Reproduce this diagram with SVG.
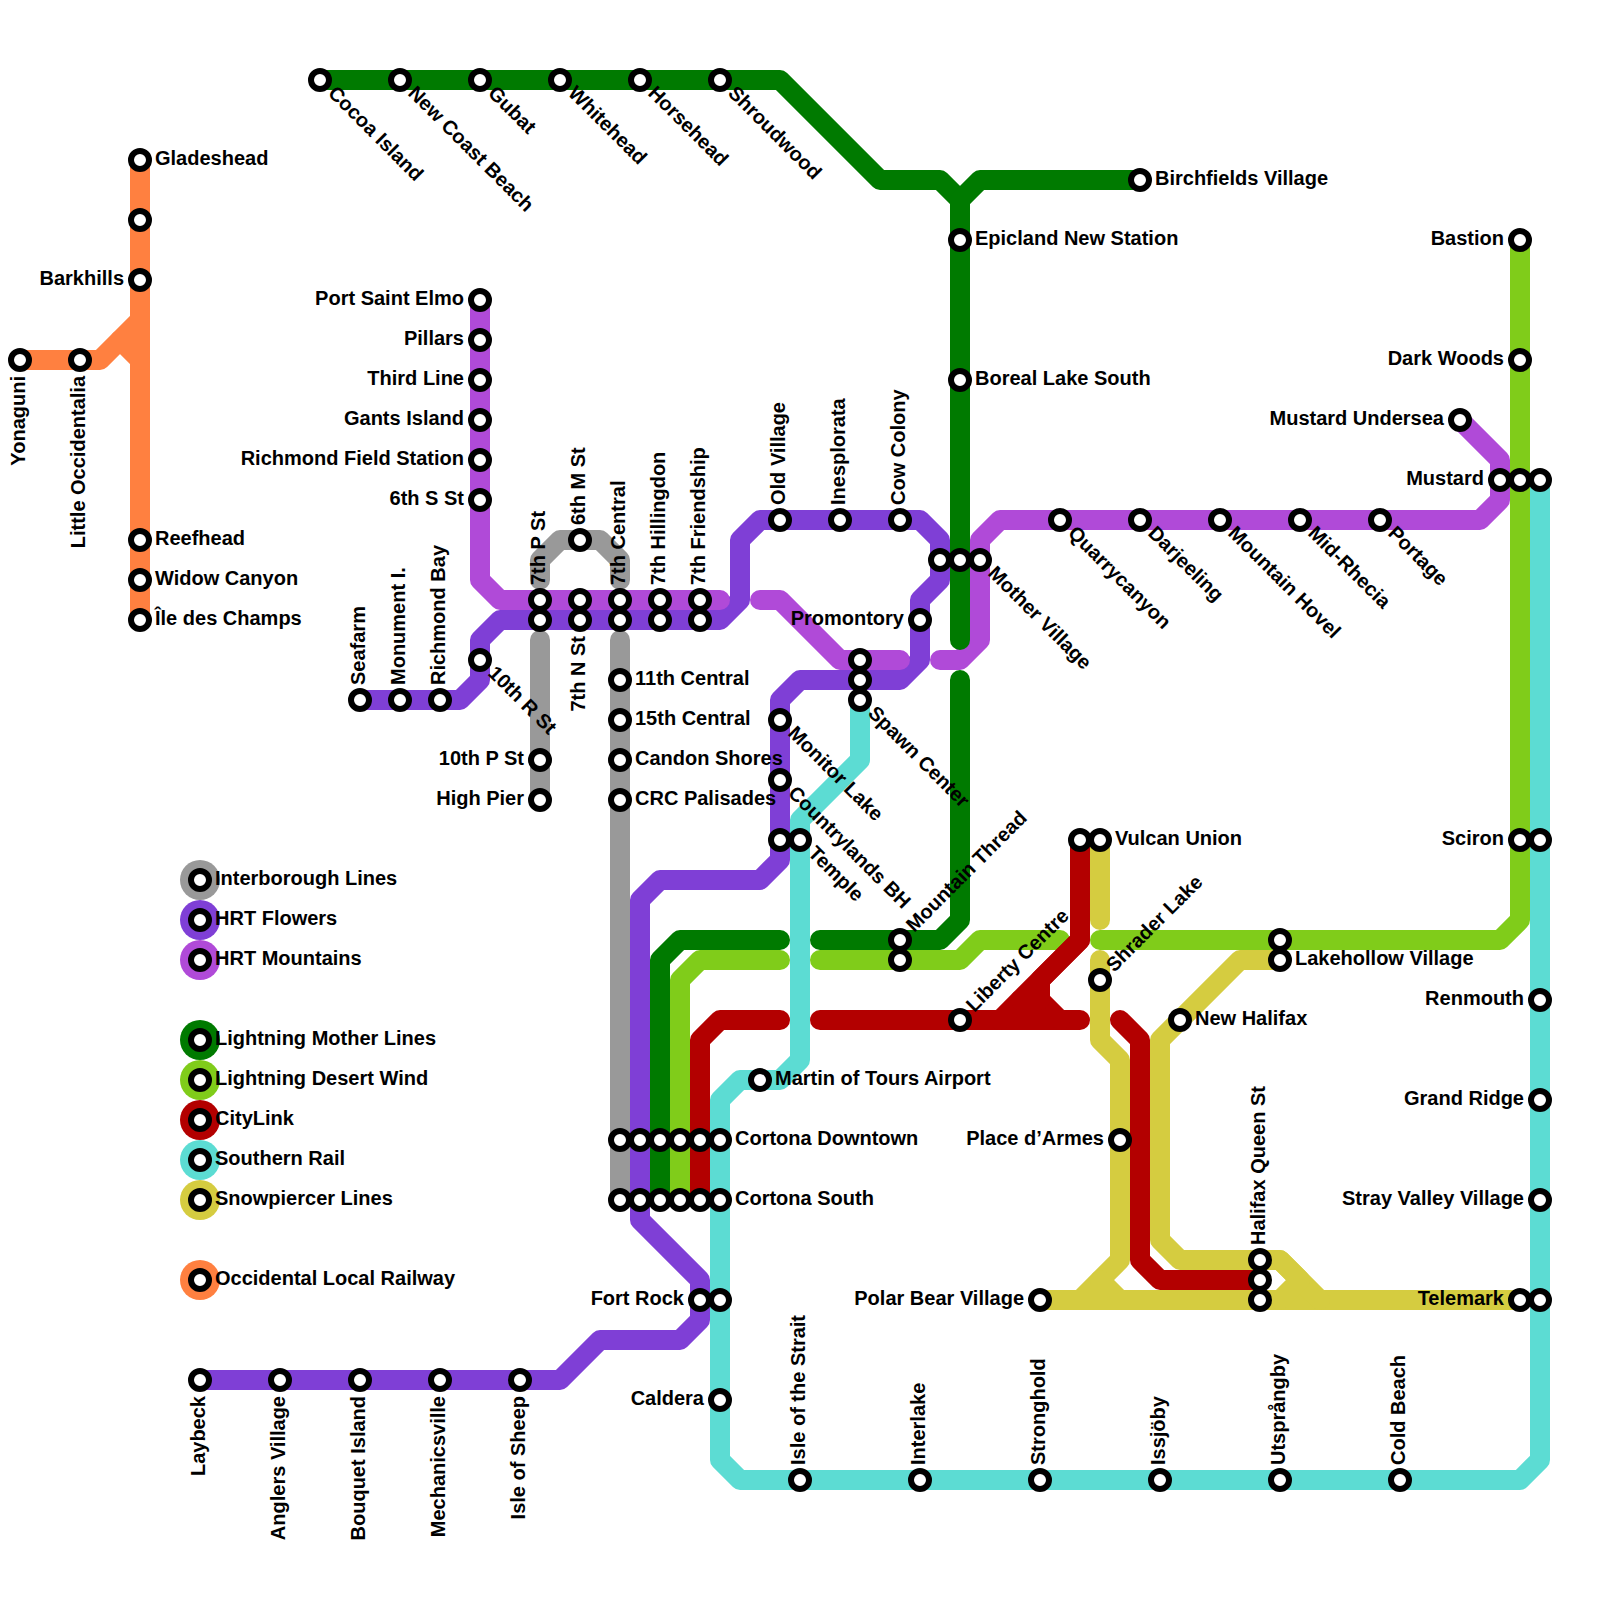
<svg xmlns="http://www.w3.org/2000/svg" width="1600" height="1600" viewBox="0 0 1600 1600">
<style>
.l{fill:none;stroke-width:20;stroke-linecap:round;stroke-linejoin:round}
.gy{stroke:#999999}.fl{stroke:#7f3fd6}.mt{stroke:#b04ad8}.mo{stroke:#007a00}.dw{stroke:#80cc1a}.cl{stroke:#b30000}.sr{stroke:#5cdcd3}.sn{stroke:#d5cc40}.or{stroke:#ff8040}
.s{fill:#fff;stroke:#000;stroke-width:6}
text{font-family:"Liberation Sans",Arial,sans-serif;font-weight:bold;font-size:20px;fill:#000}
.e{text-anchor:end}
</style>
<rect width="1600" height="1600" fill="#fff"/>
<g id="connectors">
<path class="l gy" d="M540 580V560L560 540H600L620 560V580"/>
<path class="l gy" d="M540 640V800"/>
<path class="l gy" d="M620 640V1200"/>
<path class="l fl" d="M360 700H460L480 680V640L500 620H720L740 600V540L760 520H920L940 540V580L920 600V660L900 680H800L780 700V860L760 880H660L640 900V1220L700 1280V1320L680 1340H600L560 1380H200"/>
<path class="l mt" d="M480 300V580L500 600H720"/>
<path class="l mt" d="M760 600H780L840 660H900"/>
<path class="l mt" d="M940 660H960L980 640V540L1000 520H1480L1500 500V460L1460 420"/>
<path class="l mo" d="M320 80H780L880 180H940L960 200"/>
<path class="l mo" d="M1140 180H980L960 200V640"/>
<path class="l mo" d="M960 680V920L940 940H820"/>
<path class="l mo" d="M780 940H680L660 960V1200"/>
<path class="l dw" d="M780 960H700L680 980V1200"/>
<path class="l dw" d="M820 960H960L980 940H1060"/>
<path class="l dw" d="M1100 940H1500L1520 920V240"/>
<path class="l cl" d="M780 1020H720L700 1040V1200"/>
<path class="l cl" d="M820 1020H1080"/>
<path class="l cl" d="M1080 840V940L1000 1020"/>
<path class="l cl" d="M1080 940L1040 980V1000L1060 1020"/>
<path class="l cl" d="M1040 1000H1020"/>
<path class="l cl" d="M1120 1020L1140 1040V1260L1160 1280H1260"/>
<path class="l sr" d="M860 700V760L800 820V1060L780 1080H740L720 1100V1460L740 1480H1520L1540 1460V480"/>
<path class="l sn" d="M1100 840V920"/>
<path class="l sn" d="M1100 960V1040L1120 1060V1260L1080 1300"/>
<path class="l sn" d="M1100 1280L1120 1300"/>
<path class="l sn" d="M1040 1300H1520"/>
<path class="l sn" d="M1280 960H1240L1160 1040V1240L1180 1260H1280L1320 1300"/>
<path class="l sn" d="M1280 1260L1300 1280L1280 1300"/>
<path class="l or" d="M140 160V620"/>
<path class="l or" d="M20 360H100L140 320"/>
<path class="l or" d="M120 340L140 360"/>
</g>
<g id="n1"><circle class="s" cx="140" cy="160" r="9"/><text transform="translate(140 160)" x="15" y="5">Gladeshead</text></g>
<g id="n2"><circle class="s" cx="140" cy="220" r="9"/></g>
<g id="n3"><circle class="s" cx="140" cy="280" r="9"/><text class="e" transform="translate(140 280)" x="-16" y="5">Barkhills</text></g>
<g id="n4"><circle class="s" cx="140" cy="540" r="9"/><text transform="translate(140 540)" x="15" y="5">Reefhead</text></g>
<g id="n5"><circle class="s" cx="140" cy="580" r="9"/><text transform="translate(140 580)" x="15" y="5">Widow Canyon</text></g>
<g id="n6"><circle class="s" cx="140" cy="620" r="9"/><text transform="translate(140 620)" x="15" y="5">Île des Champs</text></g>
<g id="n7"><circle class="s" cx="20" cy="360" r="9"/><text class="e" transform="translate(20 360) rotate(-90)" x="-16" y="5">Yonaguni</text></g>
<g id="n8"><circle class="s" cx="80" cy="360" r="9"/><text class="e" transform="translate(80 360) rotate(-90)" x="-16" y="5">Little Occidentalia</text></g>
<g id="n9"><circle class="s" cx="320" cy="80" r="9"/><text transform="translate(320 80) rotate(45)" x="15" y="5">Cocoa Island</text></g>
<g id="n10"><circle class="s" cx="400" cy="80" r="9"/><text transform="translate(400 80) rotate(45)" x="15" y="5">New Coast Beach</text></g>
<g id="n11"><circle class="s" cx="480" cy="80" r="9"/><text transform="translate(480 80) rotate(45)" x="15" y="5">Gubat</text></g>
<g id="n12"><circle class="s" cx="560" cy="80" r="9"/><text transform="translate(560 80) rotate(45)" x="15" y="5">Whitehead</text></g>
<g id="n13"><circle class="s" cx="640" cy="80" r="9"/><text transform="translate(640 80) rotate(45)" x="15" y="5">Horsehead</text></g>
<g id="n14"><circle class="s" cx="720" cy="80" r="9"/><text transform="translate(720 80) rotate(45)" x="15" y="5">Shroudwood</text></g>
<g id="n15"><circle class="s" cx="1140" cy="180" r="9"/><text transform="translate(1140 180)" x="15" y="5">Birchfields Village</text></g>
<g id="n16"><circle class="s" cx="960" cy="240" r="9"/><text transform="translate(960 240)" x="15" y="5">Epicland New Station</text></g>
<g id="n17"><circle class="s" cx="960" cy="380" r="9"/><text transform="translate(960 380)" x="15" y="5">Boreal Lake South</text></g>
<g id="n18"><circle class="s" cx="480" cy="300" r="9"/><text class="e" transform="translate(480 300)" x="-16" y="5">Port Saint Elmo</text></g>
<g id="n19"><circle class="s" cx="480" cy="340" r="9"/><text class="e" transform="translate(480 340)" x="-16" y="5">Pillars</text></g>
<g id="n20"><circle class="s" cx="480" cy="380" r="9"/><text class="e" transform="translate(480 380)" x="-16" y="5">Third Line</text></g>
<g id="n21"><circle class="s" cx="480" cy="420" r="9"/><text class="e" transform="translate(480 420)" x="-16" y="5">Gants Island</text></g>
<g id="n22"><circle class="s" cx="480" cy="460" r="9"/><text class="e" transform="translate(480 460)" x="-16" y="5">Richmond Field Station</text></g>
<g id="n23"><circle class="s" cx="480" cy="500" r="9"/><text class="e" transform="translate(480 500)" x="-16" y="5">6th S St</text></g>
<g id="n24"><circle class="s" cx="360" cy="700" r="9"/><text transform="translate(360 700) rotate(-90)" x="15" y="5">Seafarm</text></g>
<g id="n25"><circle class="s" cx="400" cy="700" r="9"/><text transform="translate(400 700) rotate(-90)" x="15" y="5">Monument I.</text></g>
<g id="n26"><circle class="s" cx="440" cy="700" r="9"/><text transform="translate(440 700) rotate(-90)" x="15" y="5">Richmond Bay</text></g>
<g id="n27"><circle class="s" cx="480" cy="660" r="9"/><text transform="translate(480 660) rotate(45)" x="15" y="5">10th R St</text></g>
<g id="n28"><circle class="s" cx="540" cy="600" r="9"/><text transform="translate(540 600) rotate(-90)" x="15" y="5">7th P St</text></g>
<g id="n29"><circle class="s" cx="540" cy="620" r="9"/></g>
<g id="n30"><circle class="s" cx="580" cy="540" r="9"/><text transform="translate(580 540) rotate(-90)" x="15" y="5">6th M St</text></g>
<g id="n31"><circle class="s" cx="580" cy="600" r="9"/></g>
<g id="n32"><circle class="s" cx="580" cy="620" r="9"/><text class="e" transform="translate(580 620) rotate(-90)" x="-16" y="5">7th N St</text></g>
<g id="n33"><circle class="s" cx="620" cy="600" r="9"/><text transform="translate(620 600) rotate(-90)" x="15" y="5">7th Central</text></g>
<g id="n34"><circle class="s" cx="620" cy="620" r="9"/></g>
<g id="n35"><circle class="s" cx="660" cy="600" r="9"/><text transform="translate(660 600) rotate(-90)" x="15" y="5">7th Hillingdon</text></g>
<g id="n36"><circle class="s" cx="660" cy="620" r="9"/></g>
<g id="n37"><circle class="s" cx="700" cy="600" r="9"/><text transform="translate(700 600) rotate(-90)" x="15" y="5">7th Friendship</text></g>
<g id="n38"><circle class="s" cx="700" cy="620" r="9"/></g>
<g id="n39"><circle class="s" cx="620" cy="680" r="9"/><text transform="translate(620 680)" x="15" y="5">11th Central</text></g>
<g id="n40"><circle class="s" cx="620" cy="720" r="9"/><text transform="translate(620 720)" x="15" y="5">15th Central</text></g>
<g id="n41"><circle class="s" cx="620" cy="760" r="9"/><text transform="translate(620 760)" x="15" y="5">Candon Shores</text></g>
<g id="n42"><circle class="s" cx="620" cy="800" r="9"/><text transform="translate(620 800)" x="15" y="5">CRC Palisades</text></g>
<g id="n43"><circle class="s" cx="540" cy="760" r="9"/><text class="e" transform="translate(540 760)" x="-16" y="5">10th P St</text></g>
<g id="n44"><circle class="s" cx="540" cy="800" r="9"/><text class="e" transform="translate(540 800)" x="-16" y="5">High Pier</text></g>
<g id="n45"><circle class="s" cx="780" cy="520" r="9"/><text transform="translate(780 520) rotate(-90)" x="15" y="5">Old Village</text></g>
<g id="n46"><circle class="s" cx="840" cy="520" r="9"/><text transform="translate(840 520) rotate(-90)" x="15" y="5">Inesplorata</text></g>
<g id="n47"><circle class="s" cx="900" cy="520" r="9"/><text transform="translate(900 520) rotate(-90)" x="15" y="5">Cow Colony</text></g>
<g id="n48"><circle class="s" cx="940" cy="560" r="9"/></g>
<g id="n49"><circle class="s" cx="960" cy="560" r="9"/></g>
<g id="n50"><circle class="s" cx="980" cy="560" r="9"/><text transform="translate(980 560) rotate(45)" x="15" y="5">Mother Village</text></g>
<g id="n51"><circle class="s" cx="920" cy="620" r="9"/><text class="e" transform="translate(920 620)" x="-16" y="5">Promontory</text></g>
<g id="n52"><circle class="s" cx="860" cy="660" r="9"/></g>
<g id="n53"><circle class="s" cx="860" cy="680" r="9"/></g>
<g id="n54"><circle class="s" cx="860" cy="700" r="9"/><text transform="translate(860 700) rotate(45)" x="15" y="5">Spawn Center</text></g>
<g id="n55"><circle class="s" cx="780" cy="720" r="9"/><text transform="translate(780 720) rotate(45)" x="15" y="5">Monitor Lake</text></g>
<g id="n56"><circle class="s" cx="780" cy="780" r="9"/><text transform="translate(780 780) rotate(45)" x="15" y="5">Countrylands BH</text></g>
<g id="n57"><circle class="s" cx="780" cy="840" r="9"/></g>
<g id="n58"><circle class="s" cx="800" cy="840" r="9"/><text transform="translate(800 840) rotate(45)" x="15" y="5">Temple</text></g>
<g id="n59"><circle class="s" cx="1060" cy="520" r="9"/><text transform="translate(1060 520) rotate(45)" x="15" y="5">Quarrycanyon</text></g>
<g id="n60"><circle class="s" cx="1140" cy="520" r="9"/><text transform="translate(1140 520) rotate(45)" x="15" y="5">Darjeeling</text></g>
<g id="n61"><circle class="s" cx="1220" cy="520" r="9"/><text transform="translate(1220 520) rotate(45)" x="15" y="5">Mountain Hovel</text></g>
<g id="n62"><circle class="s" cx="1300" cy="520" r="9"/><text transform="translate(1300 520) rotate(45)" x="15" y="5">Mid-Rhecia</text></g>
<g id="n63"><circle class="s" cx="1380" cy="520" r="9"/><text transform="translate(1380 520) rotate(45)" x="15" y="5">Portage</text></g>
<g id="n64"><circle class="s" cx="1460" cy="420" r="9"/><text class="e" transform="translate(1460 420)" x="-16" y="5">Mustard Undersea</text></g>
<g id="n65"><circle class="s" cx="1520" cy="240" r="9"/><text class="e" transform="translate(1520 240)" x="-16" y="5">Bastion</text></g>
<g id="n66"><circle class="s" cx="1520" cy="360" r="9"/><text class="e" transform="translate(1520 360)" x="-16" y="5">Dark Woods</text></g>
<g id="n67"><circle class="s" cx="1500" cy="480" r="9"/><text class="e" transform="translate(1500 480)" x="-16" y="5">Mustard</text></g>
<g id="n68"><circle class="s" cx="1520" cy="480" r="9"/></g>
<g id="n69"><circle class="s" cx="1540" cy="480" r="9"/></g>
<g id="n70"><circle class="s" cx="1520" cy="840" r="9"/><text class="e" transform="translate(1520 840)" x="-16" y="5">Sciron</text></g>
<g id="n71"><circle class="s" cx="1540" cy="840" r="9"/></g>
<g id="n72"><circle class="s" cx="1540" cy="1000" r="9"/><text class="e" transform="translate(1540 1000)" x="-16" y="5">Renmouth</text></g>
<g id="n73"><circle class="s" cx="1540" cy="1100" r="9"/><text class="e" transform="translate(1540 1100)" x="-16" y="5">Grand Ridge</text></g>
<g id="n74"><circle class="s" cx="1540" cy="1200" r="9"/><text class="e" transform="translate(1540 1200)" x="-16" y="5">Stray Valley Village</text></g>
<g id="n75"><circle class="s" cx="1520" cy="1300" r="9"/><text class="e" transform="translate(1520 1300)" x="-16" y="5">Telemark</text></g>
<g id="n76"><circle class="s" cx="1540" cy="1300" r="9"/></g>
<g id="n77"><circle class="s" cx="900" cy="940" r="9"/><text transform="translate(900 940) rotate(-45)" x="15" y="5">Mountain Thread</text></g>
<g id="n78"><circle class="s" cx="900" cy="960" r="9"/></g>
<g id="n79"><circle class="s" cx="960" cy="1020" r="9"/><text transform="translate(960 1020) rotate(-45)" x="15" y="5">Liberty Centre</text></g>
<g id="n80"><circle class="s" cx="1080" cy="840" r="9"/></g>
<g id="n81"><circle class="s" cx="1100" cy="840" r="9"/><text transform="translate(1100 840)" x="15" y="5">Vulcan Union</text></g>
<g id="n82"><circle class="s" cx="1100" cy="980" r="9"/><text transform="translate(1100 980) rotate(-45)" x="15" y="5">Shrader Lake</text></g>
<g id="n83"><circle class="s" cx="1280" cy="940" r="9"/></g>
<g id="n84"><circle class="s" cx="1280" cy="960" r="9"/><text transform="translate(1280 960)" x="15" y="5">Lakehollow Village</text></g>
<g id="n85"><circle class="s" cx="1180" cy="1020" r="9"/><text transform="translate(1180 1020)" x="15" y="5">New Halifax</text></g>
<g id="n86"><circle class="s" cx="1120" cy="1140" r="9"/><text class="e" transform="translate(1120 1140)" x="-16" y="5">Place d’Armes</text></g>
<g id="n87"><circle class="s" cx="1040" cy="1300" r="9"/><text class="e" transform="translate(1040 1300)" x="-16" y="5">Polar Bear Village</text></g>
<g id="n88"><circle class="s" cx="1260" cy="1260" r="9"/><text transform="translate(1260 1260) rotate(-90)" x="15" y="5">Halifax Queen St</text></g>
<g id="n89"><circle class="s" cx="1260" cy="1280" r="9"/></g>
<g id="n90"><circle class="s" cx="1260" cy="1300" r="9"/></g>
<g id="n91"><circle class="s" cx="760" cy="1080" r="9"/><text transform="translate(760 1080)" x="15" y="5">Martin of Tours Airport</text></g>
<g id="n92"><circle class="s" cx="620" cy="1140" r="9"/></g>
<g id="n93"><circle class="s" cx="640" cy="1140" r="9"/></g>
<g id="n94"><circle class="s" cx="660" cy="1140" r="9"/></g>
<g id="n95"><circle class="s" cx="680" cy="1140" r="9"/></g>
<g id="n96"><circle class="s" cx="700" cy="1140" r="9"/></g>
<g id="n97"><circle class="s" cx="720" cy="1140" r="9"/><text transform="translate(720 1140)" x="15" y="5">Cortona Downtown</text></g>
<g id="n98"><circle class="s" cx="620" cy="1200" r="9"/></g>
<g id="n99"><circle class="s" cx="640" cy="1200" r="9"/></g>
<g id="n100"><circle class="s" cx="660" cy="1200" r="9"/></g>
<g id="n101"><circle class="s" cx="680" cy="1200" r="9"/></g>
<g id="n102"><circle class="s" cx="700" cy="1200" r="9"/></g>
<g id="n103"><circle class="s" cx="720" cy="1200" r="9"/><text transform="translate(720 1200)" x="15" y="5">Cortona South</text></g>
<g id="n104"><circle class="s" cx="700" cy="1300" r="9"/><text class="e" transform="translate(700 1300)" x="-16" y="5">Fort Rock</text></g>
<g id="n105"><circle class="s" cx="720" cy="1300" r="9"/></g>
<g id="n106"><circle class="s" cx="720" cy="1400" r="9"/><text class="e" transform="translate(720 1400)" x="-16" y="5">Caldera</text></g>
<g id="n107"><circle class="s" cx="200" cy="1380" r="9"/><text class="e" transform="translate(200 1380) rotate(-90)" x="-16" y="5">Laybeck</text></g>
<g id="n108"><circle class="s" cx="280" cy="1380" r="9"/><text class="e" transform="translate(280 1380) rotate(-90)" x="-16" y="5">Anglers Village</text></g>
<g id="n109"><circle class="s" cx="360" cy="1380" r="9"/><text class="e" transform="translate(360 1380) rotate(-90)" x="-16" y="5">Bouquet Island</text></g>
<g id="n110"><circle class="s" cx="440" cy="1380" r="9"/><text class="e" transform="translate(440 1380) rotate(-90)" x="-16" y="5">Mechanicsville</text></g>
<g id="n111"><circle class="s" cx="520" cy="1380" r="9"/><text class="e" transform="translate(520 1380) rotate(-90)" x="-16" y="5">Isle of Sheep</text></g>
<g id="n112"><circle class="s" cx="800" cy="1480" r="9"/><text transform="translate(800 1480) rotate(-90)" x="15" y="5">Isle of the Strait</text></g>
<g id="n113"><circle class="s" cx="920" cy="1480" r="9"/><text transform="translate(920 1480) rotate(-90)" x="15" y="5">Interlake</text></g>
<g id="n114"><circle class="s" cx="1040" cy="1480" r="9"/><text transform="translate(1040 1480) rotate(-90)" x="15" y="5">Stronghold</text></g>
<g id="n115"><circle class="s" cx="1160" cy="1480" r="9"/><text transform="translate(1160 1480) rotate(-90)" x="15" y="5">Issjöby</text></g>
<g id="n116"><circle class="s" cx="1280" cy="1480" r="9"/><text transform="translate(1280 1480) rotate(-90)" x="15" y="5">Utsprångby</text></g>
<g id="n117"><circle class="s" cx="1400" cy="1480" r="9"/><text transform="translate(1400 1480) rotate(-90)" x="15" y="5">Cold Beach</text></g>
<g id="legend">
<circle cx="200" cy="880" r="20" fill="#999999"/><circle class="s" cx="200" cy="880" r="9"/><text x="215" y="885">Interborough Lines</text>
<circle cx="200" cy="920" r="20" fill="#7f3fd6"/><circle class="s" cx="200" cy="920" r="9"/><text x="215" y="925">HRT Flowers</text>
<circle cx="200" cy="960" r="20" fill="#b04ad8"/><circle class="s" cx="200" cy="960" r="9"/><text x="215" y="965">HRT Mountains</text>
<circle cx="200" cy="1040" r="20" fill="#007a00"/><circle class="s" cx="200" cy="1040" r="9"/><text x="215" y="1045">Lightning Mother Lines</text>
<circle cx="200" cy="1080" r="20" fill="#80cc1a"/><circle class="s" cx="200" cy="1080" r="9"/><text x="215" y="1085">Lightning Desert Wind</text>
<circle cx="200" cy="1120" r="20" fill="#b30000"/><circle class="s" cx="200" cy="1120" r="9"/><text x="215" y="1125">CityLink</text>
<circle cx="200" cy="1160" r="20" fill="#5cdcd3"/><circle class="s" cx="200" cy="1160" r="9"/><text x="215" y="1165">Southern Rail</text>
<circle cx="200" cy="1200" r="20" fill="#d5cc40"/><circle class="s" cx="200" cy="1200" r="9"/><text x="215" y="1205">Snowpiercer Lines</text>
<circle cx="200" cy="1280" r="20" fill="#ff8040"/><circle class="s" cx="200" cy="1280" r="9"/><text x="215" y="1285">Occidental Local Railway</text>
</g>
</svg>
